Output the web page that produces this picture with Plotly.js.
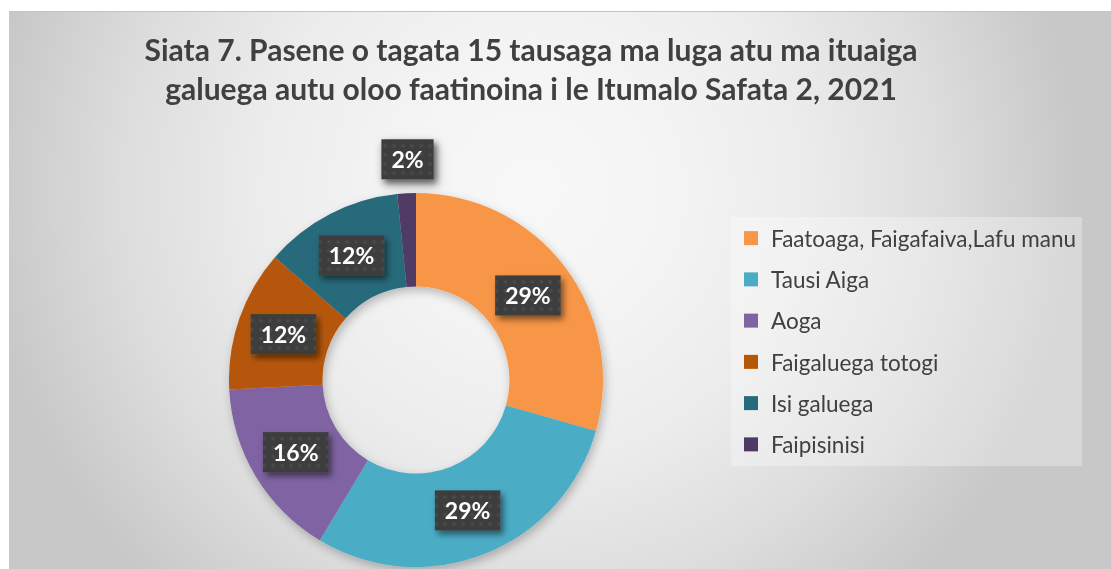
<!DOCTYPE html>
<html>
<head>
<meta charset="utf-8">
<script src="https://cdn.plot.ly/plotly-3.0.1.min.js"></script>
<style>
  html, body { margin: 0; padding: 0; background: #ffffff; }
  #frame {
    position: absolute; left: 9px; top: 11px; width: 1102px; height: 558px;
    box-sizing: border-box; border-top: 1px solid #c4c4c4;
    background: radial-gradient(circle 545px at 522px 178px,
      #f8f8f8 0%, #f4f4f4 25%, #ececec 50%, #dddddd 75%, #c8c8c8 100%);
  }
  #chart { position: absolute; left: 9px; top: 12px; width: 1102px; height: 557px; }
</style>
</head>
<body>
<div id="frame"></div>
<div id="chart"></div>
<svg width="0" height="0" style="position:absolute">
  <defs>
    <pattern id="dotpat" width="9" height="9" patternUnits="userSpaceOnUse">
      <rect width="9" height="9" fill="#3d3d3d"></rect>
      <circle cx="4.5" cy="4.5" r="2" fill="#494949"></circle>
    </pattern>
    <filter id="boxshadow" x="-30%" y="-30%" width="170%" height="190%">
      <feDropShadow dx="3" dy="4" stdDeviation="3" flood-color="#000" flood-opacity="0.5"></feDropShadow>
    </filter>
    <filter id="pieshadow" x="-10%" y="-10%" width="125%" height="125%">
      <feDropShadow dx="2" dy="4" stdDeviation="5" flood-color="#000" flood-opacity="0.25"></feDropShadow>
    </filter>
  </defs>
</svg>
<script>
// ---- data ----
const categories = ['Faatoaga, Faigafaiva,Lafu manu', 'Tausi Aiga', 'Aoga',
                    'Faigaluega totogi', 'Isi galuega', 'Faipisinisi'];
const shares = [29.4, 29.2, 15.6, 12.2, 12.0, 1.6];
const labelPlacement = ['inside', 'inside', 'inside', 'inside', 'inside', 'outside'];

// ---- styles ----
const sliceColors = ['#F79646', '#4BACC6', '#8064A2', '#B65708', '#276A7B', '#4F3A66'];
const FONT = 'Lato, "Open Sans", sans-serif';

const pie = {
  type: 'pie',
  labels: categories,
  values: shares,
  sort: false,
  direction: 'clockwise',
  rotation: 0,
  hole: 0.5,
  marker: { colors: sliceColors, line: { width: 0 } },
  texttemplate: '<b>%{percent:.0%}</b>',
  textposition: labelPlacement,
  insidetextorientation: 'horizontal',
  textfont: { family: FONT, size: 23, color: '#ffffff', weight: 'bold' },
  showlegend: false,
  hoverinfo: 'label+percent',
  domain: { x: [220 / 1102, 594 / 1102], y: [2 / 557, 376 / 557] }
};

// legend entries (one per category, same colours)
const legendTraces = categories.map((c, i) => ({
  type: 'scatter', mode: 'markers', x: [null], y: [null],
  name: c, legendgroup: 'g' + i,
  marker: { symbol: 'square', size: 14, color: sliceColors[i] },
  hoverinfo: 'skip'
}));

const layout = {
  width: 1102, height: 557,
  margin: { l: 0, r: 0, t: 0, b: 0 },
  paper_bgcolor: 'rgba(0,0,0,0)',
  plot_bgcolor: 'rgba(0,0,0,0)',
  xaxis: { visible: false },
  yaxis: { visible: false },
  title: {
    text: 'Siata 7. Pasene o tagata 15 tausaga ma luga atu ma ituaiga<br>galuega autu oloo faatinoina i le Itumalo Safata 2, 2021',
    font: { family: FONT, size: 30, color: '#404040', weight: 'bold' },
    x: 522 / 1102, xanchor: 'center', xref: 'paper',
    y: 1 - 49 / 557, yanchor: 'middle', yref: 'paper'
  },
  showlegend: true,
  legend: {
    x: 722 / 1102, xanchor: 'left', xref: 'paper',
    y: 1 - 205 / 557, yanchor: 'top', yref: 'paper',
    bgcolor: 'rgba(255,255,255,0.3)',
    font: { family: FONT, size: 22.5, color: '#404040' },
    traceorder: 'grouped',
    tracegroupgap: 9,
    entrywidth: 360,
    itemclick: false, itemdoubleclick: false
  }
};

const gd = document.getElementById('chart');

function decorate() {
  const NS = 'http://www.w3.org/2000/svg';
  gd.querySelectorAll('rect.lblbox').forEach(r => r.remove());
  const tr = gd.querySelector('.pielayer .trace');
  if (tr) tr.setAttribute('filter', 'url(#pieshadow)');
  gd.querySelectorAll('.pielayer text.slicetext').forEach((t, i) => {
    if (labelPlacement[i] === 'outside' && !t.dataset.shifted) {
      // centre the outside label over its slice, a little higher up
      const tf0 = t.getAttribute('transform') || '';
      t.setAttribute('transform', 'translate(24,-20) ' + tf0);
      t.dataset.shifted = '1';
    }
    const bb = t.getBBox();
    const padX = 10, padY = 7;
    const r = document.createElementNS(NS, 'rect');
    r.setAttribute('class', 'lblbox');
    r.setAttribute('x', bb.x - padX);
    r.setAttribute('y', bb.y - padY + 1);
    r.setAttribute('width', bb.width + 2 * padX);
    r.setAttribute('height', bb.height + 2 * padY - 2);
    r.setAttribute('fill', 'url(#dotpat)');
    r.setAttribute('filter', 'url(#boxshadow)');
    const tf = t.getAttribute('transform');
    if (tf) r.setAttribute('transform', tf);
    t.parentNode.insertBefore(r, t);
  });
}

Plotly.newPlot(gd, [pie].concat(legendTraces), layout, { displayModeBar: false })
  .then(() => { decorate(); gd.on('plotly_afterplot', decorate); });
</script>
</body>
</html>
